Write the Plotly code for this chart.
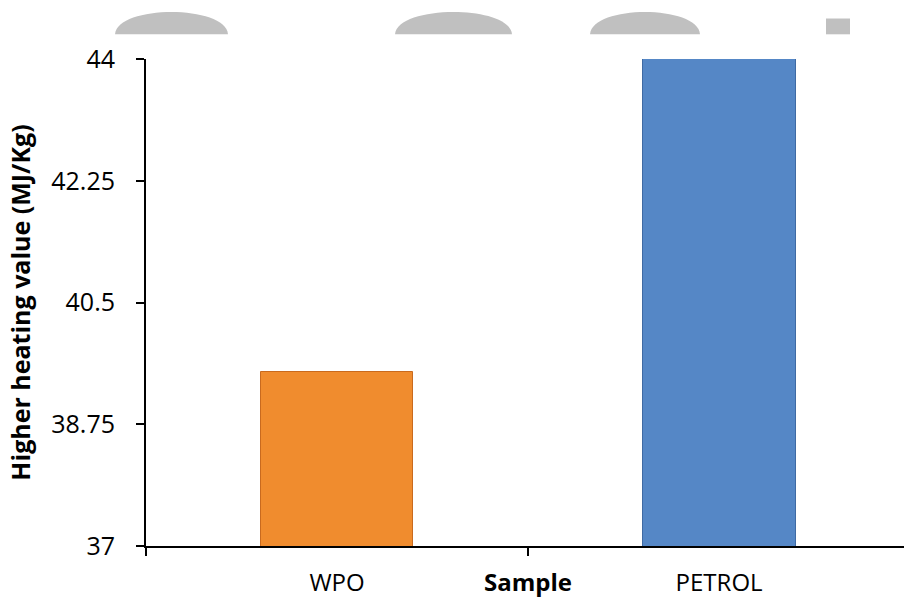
import plotly.graph_objects as go

# ---- data ----
categories = ["WPO", "PETROL"]
hhv_values = [39.5, 45.0]
bar_colors = ["#f08c2e", "#5587c6"]
y_ticks = [37, 38.75, 40.5, 42.25, 44]
y_tick_labels = ["37", "38.75", "40.5", "42.25", "44"]
x_title = "Sample"
y_title = "Higher heating value (MJ/Kg)"

FONT = "Open Sans"
W, H = 904, 598
L, R, T, B = 146, 0, 59, 46

x_pos = list(range(len(categories)))

fig = go.Figure()
fig.add_trace(go.Bar(
    x=x_pos, y=hhv_values,
    width=0.4,
    marker=dict(color=bar_colors, line=dict(color=["#c96a1e", "#3f6aa3"], width=1)),
    showlegend=False,
))

# decorative grey watermark domes at top of page (pixel -> paper conversion)
pw, ph = W - L - R, H - T - B
def px(xp):
    return (xp - L) / pw
def py(yp):
    return (H - B - yp) / ph

shapes = []
for x1, x2 in [(115, 228), (395, 512), (590, 700)]:
    w = x2 - x1
    path = (f"M {px(x1)},{py(34)} C {px(x1 + 0.02*w)},{py(4.0)} "
            f"{px(x2 - 0.02*w)},{py(4.0)} {px(x2)},{py(34)} Z")
    shapes.append(dict(type="path", xref="paper", yref="paper", path=path,
                       fillcolor="#c0c0c0", line=dict(width=0), layer="above"))
shapes.append(dict(type="rect", xref="paper", yref="paper",
                   x0=px(826), x1=px(850), y0=py(34), y1=py(18),
                   fillcolor="#c0c0c0", line=dict(width=0), layer="above"))

fig.update_layout(
    width=W, height=H, autosize=False,
    margin=dict(l=L, r=R, t=T, b=B, pad=0),
    paper_bgcolor="white", plot_bgcolor="white",
    font=dict(family=FONT, color="#000000"),
    shapes=shapes,
    bargap=0,
)

fig.update_xaxes(
    range=[-0.5, 1.484],
    tickmode="array",
    tickvals=[0, 0.5, 1],
    ticktext=[categories[0], "<b>" + x_title + "</b>", categories[1]],
    tickfont=dict(family=FONT, size=24, color="#000000"),
    ticks="",
    ticklabelstandoff=14,
    showline=True, linecolor="#000000", linewidth=2,
    showgrid=False, zeroline=False,
    minor=dict(tickmode="array", tickvals=[-0.5, 0.5], ticks="outside",
               ticklen=8, tickwidth=2, tickcolor="#000000", showgrid=False),
)

fig.update_yaxes(
    range=[37, 44],
    tickmode="array", tickvals=y_ticks, ticktext=y_tick_labels,
    tickfont=dict(family=FONT, size=25, color="#000000"),
    ticks="outside", ticklen=8, tickwidth=2, tickcolor="#000000",
    ticklabelstandoff=16,
    showline=True, linecolor="#000000", linewidth=2,
    showgrid=False, zeroline=False,
    title=dict(text="<b>" + y_title + "</b>", font=dict(family=FONT, size=25, color="#000000"),
               standoff=14),
)

fig.write_html(
    "out.html",
    config={"responsive": False, "displayModeBar": False},
    post_script="document.body.style.margin='0';document.body.style.overflow='hidden';"
                "document.documentElement.style.overflow='hidden';",
)
